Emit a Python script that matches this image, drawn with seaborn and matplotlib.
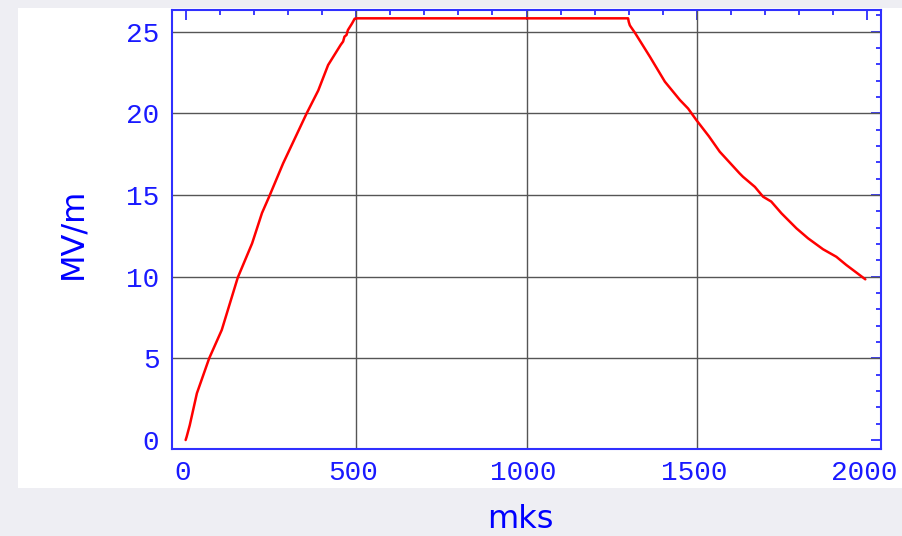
import matplotlib
matplotlib.use("Agg")
import matplotlib.pyplot as plt
import matplotlib.transforms as mtransforms
import seaborn as sns
import pandas as pd
from matplotlib.patches import Rectangle
from matplotlib.ticker import MultipleLocator, FixedLocator

# ---- data ----
time_mks = [0, 3, 12, 33, 69, 106, 153, 195, 224, 245, 286, 355, 389, 418,
            455, 462, 466, 472, 476, 482, 488, 496, 505,
            1298, 1300, 1303, 1306, 1318, 1362, 1406, 1450, 1474, 1498, 1535,
            1567, 1600, 1625, 1635, 1670, 1694, 1718, 1748, 1792, 1826, 1870,
            1909, 1938, 1968, 1994]
field_mvm = [0, 0.2, 0.9, 2.86, 5.0, 6.74, 9.95, 12.04, 13.9, 14.9, 16.94, 20.0,
             21.4, 22.96, 24.2, 24.4, 24.7, 24.8, 25.1, 25.3, 25.5, 25.8, 25.82,
             25.82, 25.6, 25.4, 25.3, 24.94, 23.47, 21.94, 20.82, 20.3, 19.6, 18.6,
             17.65, 16.9, 16.33, 16.12, 15.5, 14.9, 14.6, 13.88, 12.96, 12.35, 11.68,
             11.22, 10.72, 10.25, 9.84]
x_major_ticks = [0, 500, 1000, 1500, 2000]
y_major_ticks = [0, 5, 10, 15, 20, 25]
x_grid = [500, 1000, 1500]
y_grid = [5, 10, 15, 20, 25]
x_label = "mks"
y_label = "MV/m"

sns.set_style("white")
plt.rcParams['font.family'] = ['DejaVu Sans']

W, H = 902, 536
fig = plt.figure(figsize=(W / 100, H / 100), dpi=100, facecolor='#eeeef3')
fig.add_artist(Rectangle((18 / W, (H - 488) / H), (W - 18) / W, (488 - 8) / H,
                         transform=fig.transFigure, facecolor='white',
                         edgecolor='none', zorder=0))
ax = fig.add_axes([172 / W, (H - 449) / H, (881 - 172) / W, (449 - 10) / H])
ax.set_facecolor('white')

for gx in x_grid:
    ax.axvline(gx, color='#555555', lw=1.0, zorder=1)
for gy in y_grid:
    ax.axhline(gy, color='#555555', lw=1.0, zorder=1)

df = pd.DataFrame({"t": time_mks, "E": field_mvm})
sns.lineplot(data=df, x="t", y="E", ax=ax, sort=False, estimator=None,
             color='red', lw=1.8, zorder=3)

ax.set_xlim(-40, 2040)
ax.set_ylim(-0.55, 26.33)

blue = '#1a1aff'
ax.xaxis.set_major_locator(FixedLocator(x_major_ticks))
ax.yaxis.set_major_locator(FixedLocator(y_major_ticks))
ax.xaxis.set_minor_locator(MultipleLocator(100))
ax.yaxis.set_minor_locator(MultipleLocator(1))
ax.tick_params(which='both', direction='in', top=True, right=True,
               color=blue, width=1.2, labelcolor=blue)
ax.tick_params(which='major', length=7, pad=9)
ax.tick_params(which='minor', length=3.6)
shift = mtransforms.ScaledTranslation(-3 / 100, 1 / 100, fig.dpi_scale_trans)
for lab in ax.get_xticklabels():
    lab.set_transform(lab.get_transform() + shift)
for lab in ax.get_xticklabels() + ax.get_yticklabels():
    lab.set_fontfamily('Liberation Mono')
    lab.set_fontsize(20)

for s in ax.spines.values():
    s.set_color('#3030ff')
    s.set_linewidth(1.5)

ax.set_xlabel(x_label, fontsize=23, color='blue', va='center', ha='center')
ax.set_ylabel(y_label, fontsize=23, color='blue', va='center', ha='center')
ax.xaxis.set_label_coords((520 - 172) / 709, (449 - 520) / 439)
ax.yaxis.set_label_coords((73 - 172) / 709, (449 - 233) / 439)

fig.savefig("out.png", dpi=100, facecolor=fig.get_facecolor())
